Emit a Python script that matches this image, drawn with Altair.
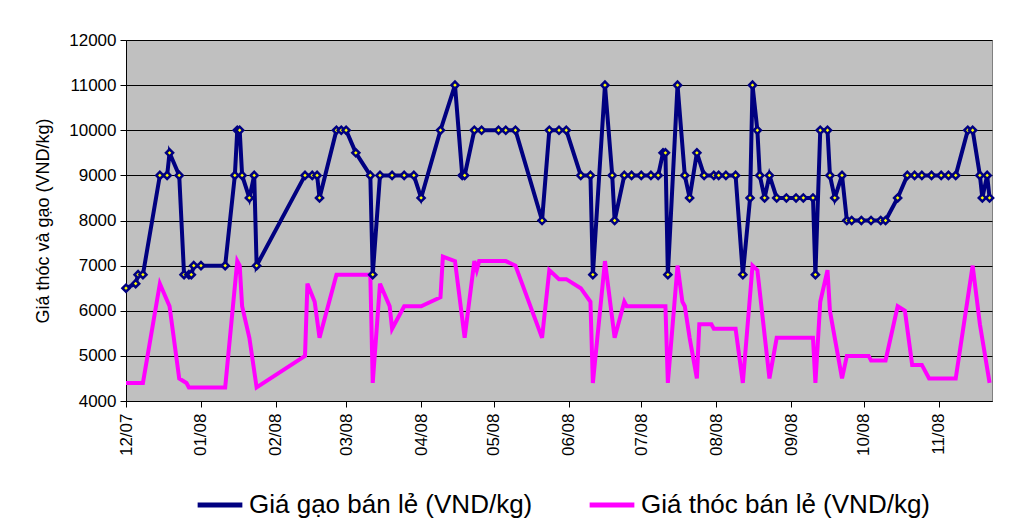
import altair as alt
import pandas as pd

rice_label = "Giá gạo bán lẻ (VND/kg)"
paddy_label = "Giá thóc bán lẻ (VND/kg)"

rice_dates = [
    "2007-12-01", "2007-12-05", "2007-12-06", "2007-12-08", "2007-12-15", "2007-12-18",
    "2007-12-19", "2007-12-23", "2007-12-25", "2007-12-27", "2007-12-28", "2007-12-29",
    "2008-01-01", "2008-01-11", "2008-01-15", "2008-01-16", "2008-01-17", "2008-01-18",
    "2008-01-21", "2008-01-23", "2008-01-24", "2008-02-13", "2008-02-16", "2008-02-18",
    "2008-02-19", "2008-02-26", "2008-02-28", "2008-03-01", "2008-03-05", "2008-03-11",
    "2008-03-12", "2008-03-15", "2008-03-20", "2008-03-25", "2008-03-29", "2008-04-01",
    "2008-04-09", "2008-04-15", "2008-04-18", "2008-04-19", "2008-04-23", "2008-04-26",
    "2008-05-03", "2008-05-06", "2008-05-10", "2008-05-21", "2008-05-24", "2008-05-28",
    "2008-05-31", "2008-06-06", "2008-06-10", "2008-06-11", "2008-06-16", "2008-06-19",
    "2008-06-20", "2008-06-24", "2008-06-27", "2008-07-01", "2008-07-05", "2008-07-08",
    "2008-07-10", "2008-07-11", "2008-07-12", "2008-07-16", "2008-07-19", "2008-07-21",
    "2008-07-24", "2008-07-27", "2008-07-31", "2008-08-02", "2008-08-05", "2008-08-09",
    "2008-08-12", "2008-08-15", "2008-08-16", "2008-08-18", "2008-08-19", "2008-08-21",
    "2008-08-23", "2008-08-26", "2008-08-30", "2008-09-03", "2008-09-06", "2008-09-10",
    "2008-09-11", "2008-09-13", "2008-09-16", "2008-09-17", "2008-09-19", "2008-09-22",
    "2008-09-24", "2008-09-26", "2008-09-30", "2008-10-04", "2008-10-08", "2008-10-10",
    "2008-10-15", "2008-10-19", "2008-10-22", "2008-10-25", "2008-10-29", "2008-11-02",
    "2008-11-05", "2008-11-08", "2008-11-13", "2008-11-15", "2008-11-18", "2008-11-19",
    "2008-11-21", "2008-11-22",
]
rice_values = [
    6500, 6600, 6800, 6800, 9000, 9000,
    9500, 9000, 6800, 6800, 6800, 7000,
    7000, 7000, 9000, 10000, 10000, 9000,
    8500, 9000, 7000, 9000, 9000, 9000,
    8500, 10000, 10000, 10000, 9500, 9000,
    6800, 9000, 9000, 9000, 9000, 8500,
    10000, 11000, 9000, 9000, 10000, 10000,
    10000, 10000, 10000, 8000, 10000, 10000,
    10000, 9000, 9000, 6800, 11000, 9000,
    8000, 9000, 9000, 9000, 9000, 9000,
    9500, 9500, 6800, 11000, 9000, 8500,
    9500, 9000, 9000, 9000, 9000, 9000,
    6800, 8500, 11000, 10000, 9000, 8500,
    9000, 8500, 8500, 8500, 8500, 8500,
    6800, 10000, 10000, 9000, 8500, 9000,
    8000, 8000, 8000, 8000, 8000, 8000,
    8500, 9000, 9000, 9000, 9000, 9000,
    9000, 9000, 10000, 10000, 9000, 8500,
    9000, 8500,
]

paddy_dates = [
    "2007-12-01", "2007-12-08", "2007-12-15", "2007-12-19", "2007-12-23", "2007-12-26",
    "2007-12-27", "2008-01-11", "2008-01-16", "2008-01-17", "2008-01-18", "2008-01-21",
    "2008-01-24", "2008-02-13", "2008-02-14", "2008-02-17", "2008-02-19", "2008-02-26",
    "2008-03-11", "2008-03-12", "2008-03-15", "2008-03-19", "2008-03-20", "2008-03-25",
    "2008-04-01", "2008-04-09", "2008-04-10", "2008-04-15", "2008-04-19", "2008-04-23",
    "2008-04-24", "2008-04-25", "2008-05-06", "2008-05-10", "2008-05-21", "2008-05-24",
    "2008-05-28", "2008-05-31", "2008-06-06", "2008-06-10", "2008-06-11", "2008-06-16",
    "2008-06-20", "2008-06-24", "2008-06-25", "2008-07-11", "2008-07-12", "2008-07-16",
    "2008-07-18", "2008-07-19", "2008-07-21", "2008-07-24", "2008-07-25", "2008-07-30",
    "2008-07-31", "2008-08-09", "2008-08-12", "2008-08-16", "2008-08-18", "2008-08-23",
    "2008-08-26", "2008-09-10", "2008-09-11", "2008-09-13", "2008-09-16", "2008-09-17",
    "2008-09-19", "2008-09-22", "2008-09-24", "2008-10-03", "2008-10-04", "2008-10-10",
    "2008-10-15", "2008-10-18", "2008-10-21", "2008-10-25", "2008-10-28", "2008-11-08",
    "2008-11-15", "2008-11-18", "2008-11-22",
]
paddy_values = [
    4400, 4400, 6600, 6100, 4500, 4400,
    4300, 4300, 7100, 7000, 6100, 5400,
    4300, 5000, 6600, 6200, 5400, 6800,
    6800, 4400, 6600, 6100, 5600, 6100,
    6100, 6300, 7200, 7100, 5400, 7100,
    6900, 7100, 7100, 7000, 5400, 6900,
    6700, 6700, 6500, 6200, 4400, 7100,
    5400, 6200, 6100, 6100, 4400, 7000,
    6200, 6100, 5400, 4500, 5700, 5700,
    5600, 5600, 4400, 7000, 6900, 4500,
    5400, 5400, 4400, 6200, 6900, 6000,
    5400, 4500, 5000, 5000, 4900, 4900,
    6100, 6000, 4800, 4800, 4500, 4500,
    7000, 5700, 4400,
]

month_ticks = [(2007, 12)] + [(2008, m) for m in range(1, 12)]

rice_df = pd.DataFrame({"date": rice_dates, "value": rice_values, "series": rice_label})
paddy_df = pd.DataFrame({"date": paddy_dates, "value": paddy_values, "series": paddy_label})
df = pd.concat([rice_df, paddy_df], ignore_index=True)

FONT = "Liberation Sans"

x_enc = alt.X(
    "date:T",
    scale=alt.Scale(type="utc", domain=[alt.DateTime(year=2007, month=12, date=1, utc=True),
                                        alt.DateTime(year=2008, month=11, date=23, utc=True)]),
    axis=alt.Axis(
        title=None,
        values=[alt.DateTime(year=y, month=m, date=1, utc=True) for y, m in month_ticks],
        labelExpr="utcFormat(datum.value, '%m/%y')",
        labelAngle=-90,
        labelFontSize=17,
        labelFont=FONT,
        labelColor="black",
        labelPadding=6,
        tickColor="black",
        tickSize=6,
        domainColor="black",
        grid=False,
    ),
)
y_enc = alt.Y(
    "value:Q",
    scale=alt.Scale(domain=[4000, 12000], nice=False),
    axis=alt.Axis(
        title="Giá thóc và gạo (VND/kg)",
        titleFont=FONT,
        titleFontSize=18,
        titleFontWeight="normal",
        titleColor="black",
        titlePadding=16,
        values=list(range(4000, 12001, 1000)),
        format="d",
        labelFontSize=17,
        labelFont=FONT,
        labelColor="black",
        labelPadding=4,
        tickColor="black",
        tickSize=6,
        domainColor="black",
        gridColor="black",
        gridWidth=1,
    ),
)

color_scale = alt.Scale(domain=[rice_label, paddy_label], range=["#000080", "#FF00FF"])

lines = alt.Chart(df).mark_line(strokeWidth=4).encode(
    x=x_enc,
    y=y_enc,
    color=alt.Color(
        "series:N",
        scale=color_scale,
        legend=alt.Legend(
            title=None,
            orient="none",
            legendX=69,
            legendY=440,
            direction="horizontal",
            symbolType="stroke",
            symbolSize=2000,
            symbolStrokeWidth=5,
            labelFontSize=26,
            labelFont=FONT,
            labelColor="black",
            labelLimit=400,
            columnPadding=46,
            labelOffset=4,
        ),
    ),
    detail="series:N",
)

points = alt.Chart(rice_df).mark_point(
    shape="diamond", filled=True, fill="#FFFF00", stroke="#000080", strokeWidth=2.5,
    size=50, opacity=1,
).encode(x="date:T", y="value:Q")

chart = alt.layer(lines, points).properties(
    width=866,
    height=361,
    autosize=alt.AutoSizeParams(type="none"),
    padding={"left": 118, "top": 32, "right": 13, "bottom": 122},
    background="white",
).configure_view(
    fill="#C0C0C0", stroke="#808080", strokeWidth=1,
)

chart.save("out.html", embed_options={"renderer": "svg", "actions": False})
